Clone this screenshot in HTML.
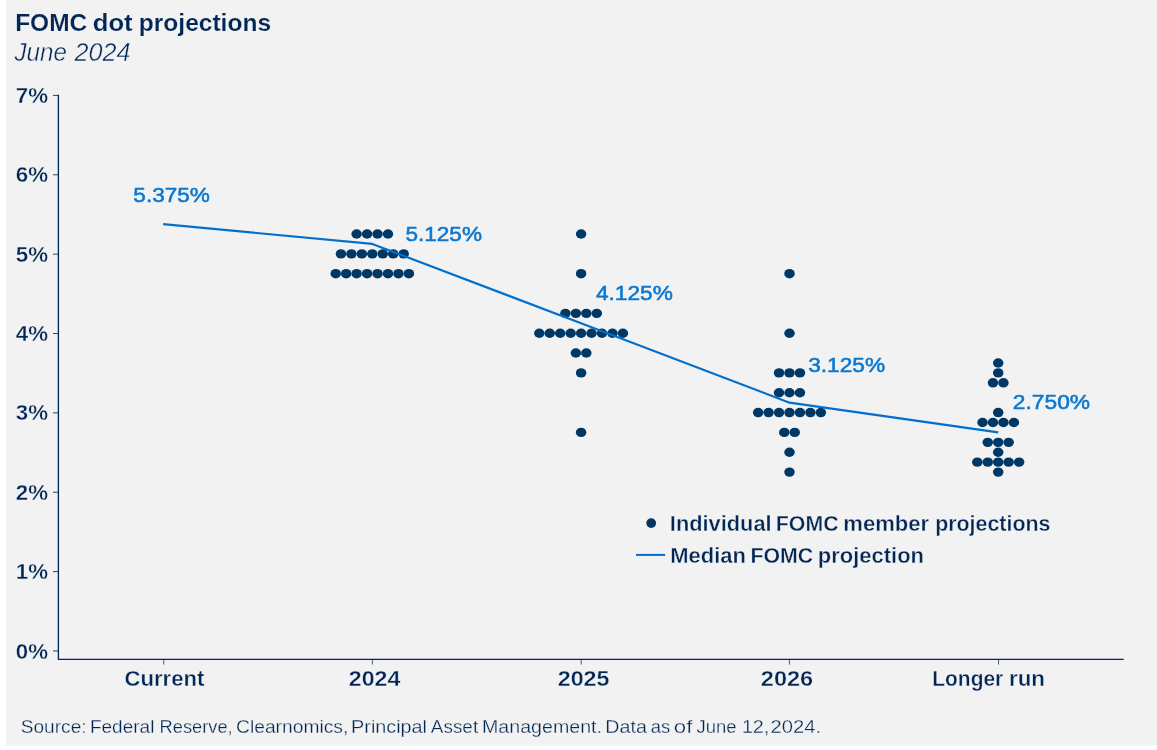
<!DOCTYPE html>
<html lang="en"><head><meta charset="utf-8"><title>FOMC dot projections</title>
<style>
html,body{margin:0;padding:0;background:#ffffff;}
body{width:1157px;height:750px;overflow:hidden;}
svg{display:block;}
text{font-family:"Liberation Sans",Arial,sans-serif;}
.b{font-weight:bold;}
.i{font-style:italic;}
</style></head><body>
<svg width="1157" height="750" viewBox="0 0 1157 750">
<rect x="0" y="0" width="1157" height="750" fill="#ffffff"/>
<rect x="6" y="0" width="1151" height="745.5" fill="#f2f2f2"/>
<g class="b" font-size="23.7" fill="#022655" stroke="#f2f2f2" stroke-width="0.15">
<text y="30.7"><tspan x="15.16" textLength="72.11" lengthAdjust="spacingAndGlyphs">FOMC</tspan> <tspan x="92.75" textLength="39.86" lengthAdjust="spacingAndGlyphs">dot</tspan> <tspan x="138.78" textLength="132.33" lengthAdjust="spacingAndGlyphs">projections</tspan></text>
</g>
<g class="i" font-size="26.5" fill="#022655" stroke="#f2f2f2" stroke-width="0.45">
<text y="60.9"><tspan x="14.56" textLength="52.34" lengthAdjust="spacingAndGlyphs">June</tspan> <tspan x="74.55" textLength="55.90" lengthAdjust="spacingAndGlyphs">2024</tspan></text>
</g>
<g stroke="#022655" stroke-width="1.33" fill="none">
<path d="M58.4 94.83V659.4H1123.7"/>
</g>
<g stroke="#022655" stroke-width="1" stroke-opacity="0.85" fill="none">
<path d="M53 650.95H58.4"/>
<path d="M53 571.59H58.4"/>
<path d="M53 492.23H58.4"/>
<path d="M53 412.87H58.4"/>
<path d="M53 333.51H58.4"/>
<path d="M53 254.15H58.4"/>
<path d="M53 174.79H58.4"/>
<path d="M53 95.43H58.4"/>
</g>
<g stroke="#022655" stroke-width="0.9" stroke-opacity="0.8" fill="none">
<path d="M163.7 659.4V664.6"/>
<path d="M372.4 659.4V664.6"/>
<path d="M581.2 659.4V664.6"/>
<path d="M789.4 659.4V664.6"/>
<path d="M998.5 659.4V664.6"/>
</g>
<g class="b" font-size="22.1" fill="#022655" stroke="#f2f2f2" stroke-width="0.35">
<text x="15.84" y="658.50" textLength="32.19" lengthAdjust="spacingAndGlyphs">0%</text>
<text x="15.84" y="579.14" textLength="32.19" lengthAdjust="spacingAndGlyphs">1%</text>
<text x="15.84" y="499.78" textLength="32.19" lengthAdjust="spacingAndGlyphs">2%</text>
<text x="15.84" y="420.42" textLength="32.19" lengthAdjust="spacingAndGlyphs">3%</text>
<text x="15.84" y="341.06" textLength="32.19" lengthAdjust="spacingAndGlyphs">4%</text>
<text x="15.84" y="261.70" textLength="32.19" lengthAdjust="spacingAndGlyphs">5%</text>
<text x="15.84" y="182.34" textLength="32.19" lengthAdjust="spacingAndGlyphs">6%</text>
<text x="15.84" y="102.98" textLength="32.19" lengthAdjust="spacingAndGlyphs">7%</text>
</g>
<g class="b" font-size="22.1" fill="#022655" stroke="#f2f2f2" stroke-width="0.35">
<text x="124.44" y="686.15" textLength="79.98" lengthAdjust="spacingAndGlyphs">Current</text>
<text x="348.75" y="686.15" textLength="51.53" lengthAdjust="spacingAndGlyphs">2024</text>
<text x="557.74" y="686.15" textLength="51.75" lengthAdjust="spacingAndGlyphs">2025</text>
<text x="760.83" y="686.15" textLength="52.37" lengthAdjust="spacingAndGlyphs">2026</text>
<text y="686.15"><tspan x="932.25" textLength="70.97" lengthAdjust="spacingAndGlyphs">Longer</tspan> <tspan x="1008.97" textLength="36.06" lengthAdjust="spacingAndGlyphs">run</tspan></text>
</g>
<g fill="#003865">
<ellipse cx="356.62" cy="234.01" rx="5.25" ry="4.7"/>
<ellipse cx="367.07" cy="234.01" rx="5.25" ry="4.7"/>
<ellipse cx="377.53" cy="234.01" rx="5.25" ry="4.7"/>
<ellipse cx="387.98" cy="234.01" rx="5.25" ry="4.7"/>
<ellipse cx="340.95" cy="253.85" rx="5.25" ry="4.7"/>
<ellipse cx="351.40" cy="253.85" rx="5.25" ry="4.7"/>
<ellipse cx="361.85" cy="253.85" rx="5.25" ry="4.7"/>
<ellipse cx="372.30" cy="253.85" rx="5.25" ry="4.7"/>
<ellipse cx="382.75" cy="253.85" rx="5.25" ry="4.7"/>
<ellipse cx="393.20" cy="253.85" rx="5.25" ry="4.7"/>
<ellipse cx="403.65" cy="253.85" rx="5.25" ry="4.7"/>
<ellipse cx="335.73" cy="273.69" rx="5.25" ry="4.7"/>
<ellipse cx="346.18" cy="273.69" rx="5.25" ry="4.7"/>
<ellipse cx="356.62" cy="273.69" rx="5.25" ry="4.7"/>
<ellipse cx="367.07" cy="273.69" rx="5.25" ry="4.7"/>
<ellipse cx="377.53" cy="273.69" rx="5.25" ry="4.7"/>
<ellipse cx="387.98" cy="273.69" rx="5.25" ry="4.7"/>
<ellipse cx="398.43" cy="273.69" rx="5.25" ry="4.7"/>
<ellipse cx="408.88" cy="273.69" rx="5.25" ry="4.7"/>
<ellipse cx="581.10" cy="234.01" rx="5.25" ry="4.7"/>
<ellipse cx="581.10" cy="273.69" rx="5.25" ry="4.7"/>
<ellipse cx="565.43" cy="313.37" rx="5.25" ry="4.7"/>
<ellipse cx="575.88" cy="313.37" rx="5.25" ry="4.7"/>
<ellipse cx="586.33" cy="313.37" rx="5.25" ry="4.7"/>
<ellipse cx="596.77" cy="313.37" rx="5.25" ry="4.7"/>
<ellipse cx="539.30" cy="333.21" rx="5.25" ry="4.7"/>
<ellipse cx="549.75" cy="333.21" rx="5.25" ry="4.7"/>
<ellipse cx="560.20" cy="333.21" rx="5.25" ry="4.7"/>
<ellipse cx="570.65" cy="333.21" rx="5.25" ry="4.7"/>
<ellipse cx="581.10" cy="333.21" rx="5.25" ry="4.7"/>
<ellipse cx="591.55" cy="333.21" rx="5.25" ry="4.7"/>
<ellipse cx="602.00" cy="333.21" rx="5.25" ry="4.7"/>
<ellipse cx="612.45" cy="333.21" rx="5.25" ry="4.7"/>
<ellipse cx="622.90" cy="333.21" rx="5.25" ry="4.7"/>
<ellipse cx="575.88" cy="353.05" rx="5.25" ry="4.7"/>
<ellipse cx="586.33" cy="353.05" rx="5.25" ry="4.7"/>
<ellipse cx="581.10" cy="372.89" rx="5.25" ry="4.7"/>
<ellipse cx="581.10" cy="432.41" rx="5.25" ry="4.7"/>
<ellipse cx="789.50" cy="273.69" rx="5.25" ry="4.7"/>
<ellipse cx="789.50" cy="333.21" rx="5.25" ry="4.7"/>
<ellipse cx="779.05" cy="372.89" rx="5.25" ry="4.7"/>
<ellipse cx="789.50" cy="372.89" rx="5.25" ry="4.7"/>
<ellipse cx="799.95" cy="372.89" rx="5.25" ry="4.7"/>
<ellipse cx="779.05" cy="392.73" rx="5.25" ry="4.7"/>
<ellipse cx="789.50" cy="392.73" rx="5.25" ry="4.7"/>
<ellipse cx="799.95" cy="392.73" rx="5.25" ry="4.7"/>
<ellipse cx="758.15" cy="412.57" rx="5.25" ry="4.7"/>
<ellipse cx="768.60" cy="412.57" rx="5.25" ry="4.7"/>
<ellipse cx="779.05" cy="412.57" rx="5.25" ry="4.7"/>
<ellipse cx="789.50" cy="412.57" rx="5.25" ry="4.7"/>
<ellipse cx="799.95" cy="412.57" rx="5.25" ry="4.7"/>
<ellipse cx="810.40" cy="412.57" rx="5.25" ry="4.7"/>
<ellipse cx="820.85" cy="412.57" rx="5.25" ry="4.7"/>
<ellipse cx="784.27" cy="432.41" rx="5.25" ry="4.7"/>
<ellipse cx="794.73" cy="432.41" rx="5.25" ry="4.7"/>
<ellipse cx="789.50" cy="452.25" rx="5.25" ry="4.7"/>
<ellipse cx="789.50" cy="472.09" rx="5.25" ry="4.7"/>
<ellipse cx="998.20" cy="362.97" rx="5.25" ry="4.7"/>
<ellipse cx="998.20" cy="372.89" rx="5.25" ry="4.7"/>
<ellipse cx="992.98" cy="382.81" rx="5.25" ry="4.7"/>
<ellipse cx="1003.43" cy="382.81" rx="5.25" ry="4.7"/>
<ellipse cx="998.20" cy="412.57" rx="5.25" ry="4.7"/>
<ellipse cx="982.53" cy="422.49" rx="5.25" ry="4.7"/>
<ellipse cx="992.98" cy="422.49" rx="5.25" ry="4.7"/>
<ellipse cx="1003.43" cy="422.49" rx="5.25" ry="4.7"/>
<ellipse cx="1013.88" cy="422.49" rx="5.25" ry="4.7"/>
<ellipse cx="987.75" cy="442.33" rx="5.25" ry="4.7"/>
<ellipse cx="998.20" cy="442.33" rx="5.25" ry="4.7"/>
<ellipse cx="1008.65" cy="442.33" rx="5.25" ry="4.7"/>
<ellipse cx="998.20" cy="452.25" rx="5.25" ry="4.7"/>
<ellipse cx="977.30" cy="462.17" rx="5.25" ry="4.7"/>
<ellipse cx="987.75" cy="462.17" rx="5.25" ry="4.7"/>
<ellipse cx="998.20" cy="462.17" rx="5.25" ry="4.7"/>
<ellipse cx="1008.65" cy="462.17" rx="5.25" ry="4.7"/>
<ellipse cx="1019.10" cy="462.17" rx="5.25" ry="4.7"/>
<ellipse cx="998.20" cy="472.09" rx="5.25" ry="4.7"/>
</g>
<polyline points="163.1,224.09 372.3,243.93 581.1,323.29 789.5,402.65 998.2,432.41" fill="none" stroke="#0070cc" stroke-width="2.15" stroke-linejoin="round"/>
<g font-size="20.9" fill="#0a78d0" stroke="#0a78d0" stroke-width="0.55" stroke-linejoin="round">
<text x="133.35" y="202.15" textLength="76.61" lengthAdjust="spacingAndGlyphs">5.375%</text>
<text x="405.45" y="241.15" textLength="76.51" lengthAdjust="spacingAndGlyphs">5.125%</text>
<text x="595.93" y="300.15" textLength="76.93" lengthAdjust="spacingAndGlyphs">4.125%</text>
<text x="808.19" y="372.15" textLength="76.87" lengthAdjust="spacingAndGlyphs">3.125%</text>
<text x="1012.80" y="409.25" textLength="77.26" lengthAdjust="spacingAndGlyphs">2.750%</text>
</g>
<circle cx="651.2" cy="523.1" r="4.9" fill="#003865"/>
<path d="M636 554.9H665.2" stroke="#0070cc" stroke-width="2" fill="none"/>
<g class="b" font-size="21.7" fill="#022655" stroke="#f2f2f2" stroke-width="0.35">
<text y="531.0"><tspan x="669.84" textLength="101.75" lengthAdjust="spacingAndGlyphs">Individual</tspan> <tspan x="775.82" textLength="62.81" lengthAdjust="spacingAndGlyphs">FOMC</tspan> <tspan x="843.30" textLength="85.79" lengthAdjust="spacingAndGlyphs">member</tspan> <tspan x="935.14" textLength="115.39" lengthAdjust="spacingAndGlyphs">projections</tspan></text>
<text y="563.1"><tspan x="670.28" textLength="75.73" lengthAdjust="spacingAndGlyphs">Median</tspan> <tspan x="750.42" textLength="62.81" lengthAdjust="spacingAndGlyphs">FOMC</tspan> <tspan x="817.80" textLength="106.21" lengthAdjust="spacingAndGlyphs">projection</tspan></text>
</g>
<g font-size="19.1" fill="#022655" stroke="#f2f2f2" stroke-width="0.3">
<text y="732.75"><tspan x="20.73" textLength="65.91" lengthAdjust="spacingAndGlyphs">Source:</tspan> <tspan x="89.94" textLength="64.43" lengthAdjust="spacingAndGlyphs">Federal</tspan> <tspan x="159.60" textLength="73.04" lengthAdjust="spacingAndGlyphs">Reserve,</tspan> <tspan x="236.02" textLength="112.31" lengthAdjust="spacingAndGlyphs">Clearnomics,</tspan> <tspan x="351.08" textLength="75.95" lengthAdjust="spacingAndGlyphs">Principal</tspan> <tspan x="430.86" textLength="47.28" lengthAdjust="spacingAndGlyphs">Asset</tspan> <tspan x="481.99" textLength="120.00" lengthAdjust="spacingAndGlyphs">Management.</tspan> <tspan x="605.28" textLength="41.62" lengthAdjust="spacingAndGlyphs">Data</tspan> <tspan x="650.72" textLength="19.45" lengthAdjust="spacingAndGlyphs">as</tspan> <tspan x="673.87" textLength="18.50" lengthAdjust="spacingAndGlyphs">of</tspan> <tspan x="696.41" textLength="40.11" lengthAdjust="spacingAndGlyphs">June</tspan> <tspan x="741.90" textLength="27.37" lengthAdjust="spacingAndGlyphs">12,</tspan> <tspan x="770.59" textLength="50.46" lengthAdjust="spacingAndGlyphs">2024.</tspan></text>
</g>
</svg>
</body></html>
